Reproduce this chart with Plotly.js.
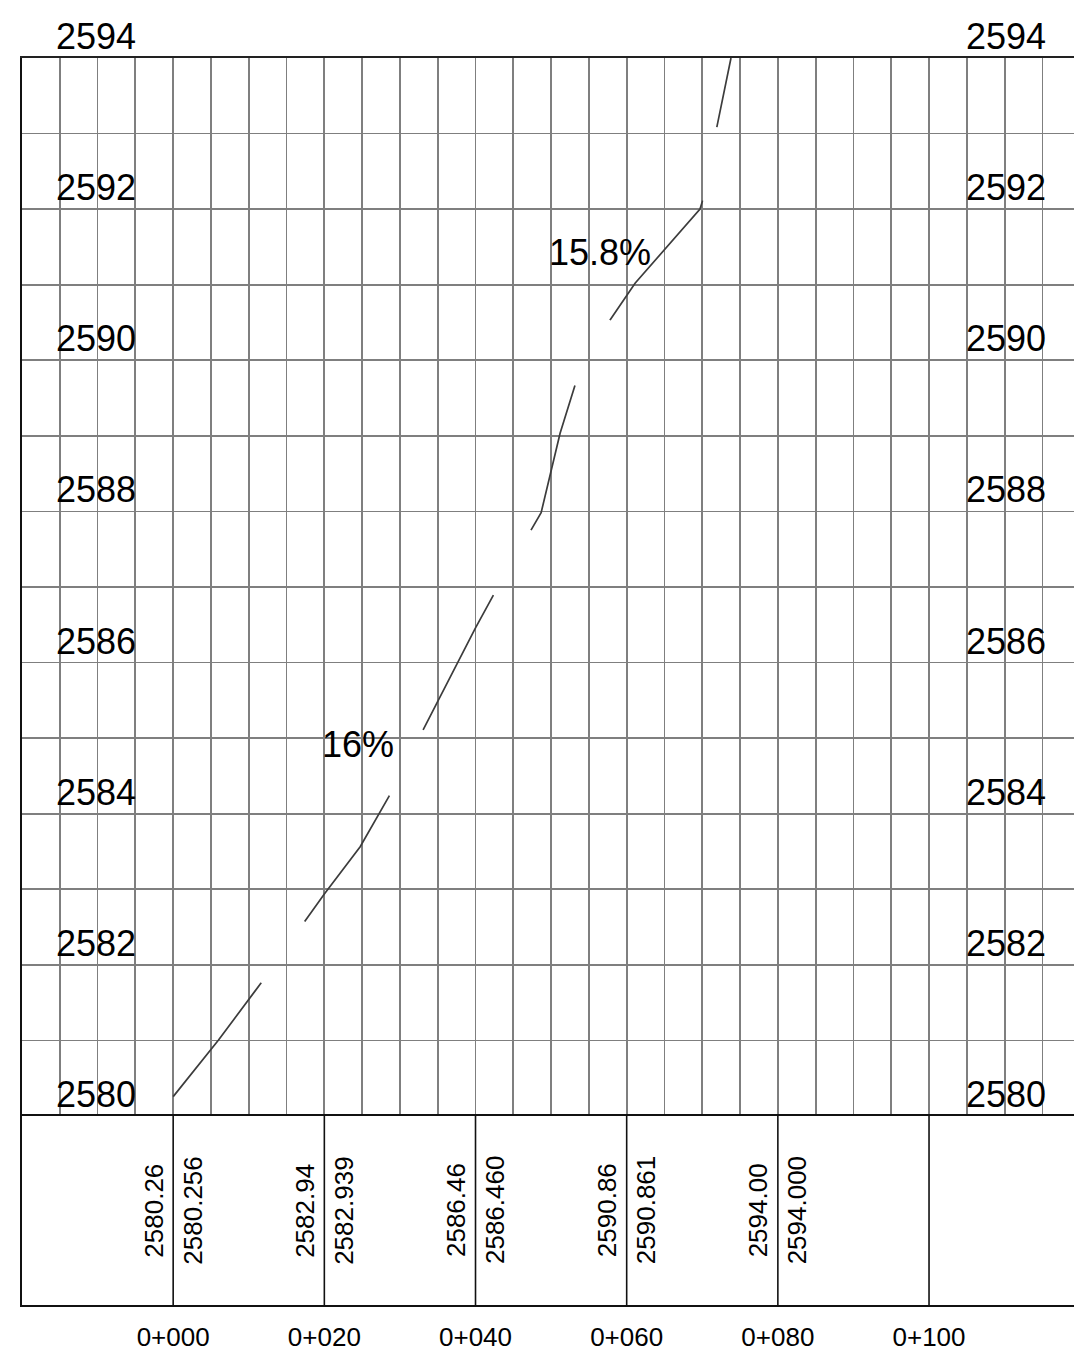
<!DOCTYPE html>
<html>
<head>
<meta charset="utf-8">
<script src="https://cdn.plot.ly/plotly-3.0.1.min.js"></script>
<style>
html,body{margin:0;padding:0;background:#fff;}
#chart{width:1074px;height:1357px;}
</style>
</head>
<body>
<div id="chart"></div>
<script>
// ---- data ----
const profileX = [0, 6.0, 11.6, 17.37, 20, 24.74, 28.53, 33.1, 40, 42.37, 47.35, 48.68, 51.19, 53.17, 57.8, 60, 61.11, 69.7, 70.0, 71.92, 73.8];
const profileY = [2580.256, 2581.006, 2581.756, 2582.571, 2582.939, 2583.564, 2584.225, 2585.117, 2586.46, 2586.894, 2587.754, 2587.983, 2589.034, 2589.673, 2590.533, 2590.861, 2591.019, 2592.002, 2592.099, 2593.083, 2594.0];

const stations = [0, 20, 40, 60, 80, 100];
const stationText = ['0+000', '0+020', '0+040', '0+060', '0+080', '0+100'];
const elevLeft = ['2580.26', '2582.94', '2586.46', '2590.86', '2594.00', ''];
const elevRight = ['2580.256', '2582.939', '2586.460', '2590.861', '2594.000', ''];

const elevTicks = [2580, 2582, 2584, 2586, 2588, 2590, 2592, 2594];

const slopeText = ['16%', '15.8%'];
const slopeX = [24.47, 56.42];
const slopeY = [2584.91, 2591.43];

// ---- layout constants ----
const FONT = 'Liberation Sans, Arial, sans-serif';
const tableFrac = 189 / 1247;

// table vertical separators built from stations
const sepX = [], sepY = [];
stations.forEach(s => { sepX.push(s, s, null); sepY.push(0, 1, null); });

const traces = [
  {
    x: profileX, y: profileY, xaxis: 'x', yaxis: 'y',
    type: 'scatter', mode: 'lines',
    line: {color: '#3c3c3c', width: 1.7,
      dash: '144px,75px,152px,74px,152px,75px,152px,74px,152px,75px,152px,75px'},
    hoverinfo: 'skip', showlegend: false
  },
  {
    x: sepX, y: sepY, xaxis: 'x2', yaxis: 'y2',
    type: 'scatter', mode: 'lines',
    line: {color: '#111111', width: 1.6},
    hoverinfo: 'skip', showlegend: false
  }
];

const annotations = [];
elevTicks.forEach(v => {
  [-10.2, 110.2].forEach(xp => {
    annotations.push({
      x: xp, y: v, xref: 'x', yref: 'y', text: String(v),
      showarrow: false, xanchor: 'center', yanchor: 'bottom', yshift: -1,
      font: {family: FONT, size: 36, color: '#000'}
    });
  });
});
stations.forEach((s, i) => {
  if (elevLeft[i]) annotations.push({
    x: s, y: 0.5, xref: 'x2', yref: 'y2', text: elevLeft[i], textangle: -90,
    showarrow: false, xanchor: 'center', yanchor: 'middle', xshift: -20,
    font: {family: FONT, size: 26, color: '#000'}
  });
  if (elevRight[i]) annotations.push({
    x: s, y: 0.5, xref: 'x2', yref: 'y2', text: elevRight[i], textangle: -90,
    showarrow: false, xanchor: 'center', yanchor: 'middle', xshift: 19,
    font: {family: FONT, size: 26, color: '#000'}
  });
});
slopeText.forEach((t, i) => {
  annotations.push({
    x: slopeX[i], y: slopeY[i], xref: 'x', yref: 'y', text: t,
    showarrow: false, xanchor: 'center', yanchor: 'middle',
    font: {family: FONT, size: 36, color: '#000'}
  });
});

const layout = {
  width: 1074, height: 1357,
  margin: {l: 22, r: 0, t: 58, b: 52, pad: 0},
  paper_bgcolor: '#fff', plot_bgcolor: '#fff',
  showlegend: false,
  font: {family: FONT, color: '#000'},
  xaxis: {
    anchor: 'y', side: 'top', range: [-20, 119.18],
    tick0: 0, dtick: 5, showgrid: true, gridcolor: '#7f7f7f', gridwidth: 1.8,
    zeroline: false, showticklabels: false, ticks: '',
    showline: true, linecolor: '#222', linewidth: 2
  },
  yaxis: {
    domain: [tableFrac, 1], anchor: 'x', range: [2580, 2594],
    tick0: 2580, dtick: 1, showgrid: true, gridcolor: '#7f7f7f', gridwidth: 1.8,
    zeroline: false, showticklabels: false, ticks: '',
    showline: true, linecolor: '#111', linewidth: 2
  },
  xaxis2: {
    anchor: 'y2', matches: 'x', range: [-20, 119.18],
    showgrid: false, zeroline: false,
    tickmode: 'array', tickvals: stations, ticktext: stationText,
    ticks: '', ticklabelstandoff: 8,
    tickfont: {family: FONT, size: 26, color: '#000'},
    showline: true, mirror: true, linecolor: '#111', linewidth: 2
  },
  yaxis2: {
    domain: [0, tableFrac], anchor: 'x2', range: [0, 1],
    showgrid: false, zeroline: false, showticklabels: false, ticks: '',
    showline: true, linecolor: '#111', linewidth: 2
  },
  annotations: annotations
};

Plotly.newPlot('chart', traces, layout, {staticPlot: true, displayModeBar: false});
</script>
</body>
</html>
